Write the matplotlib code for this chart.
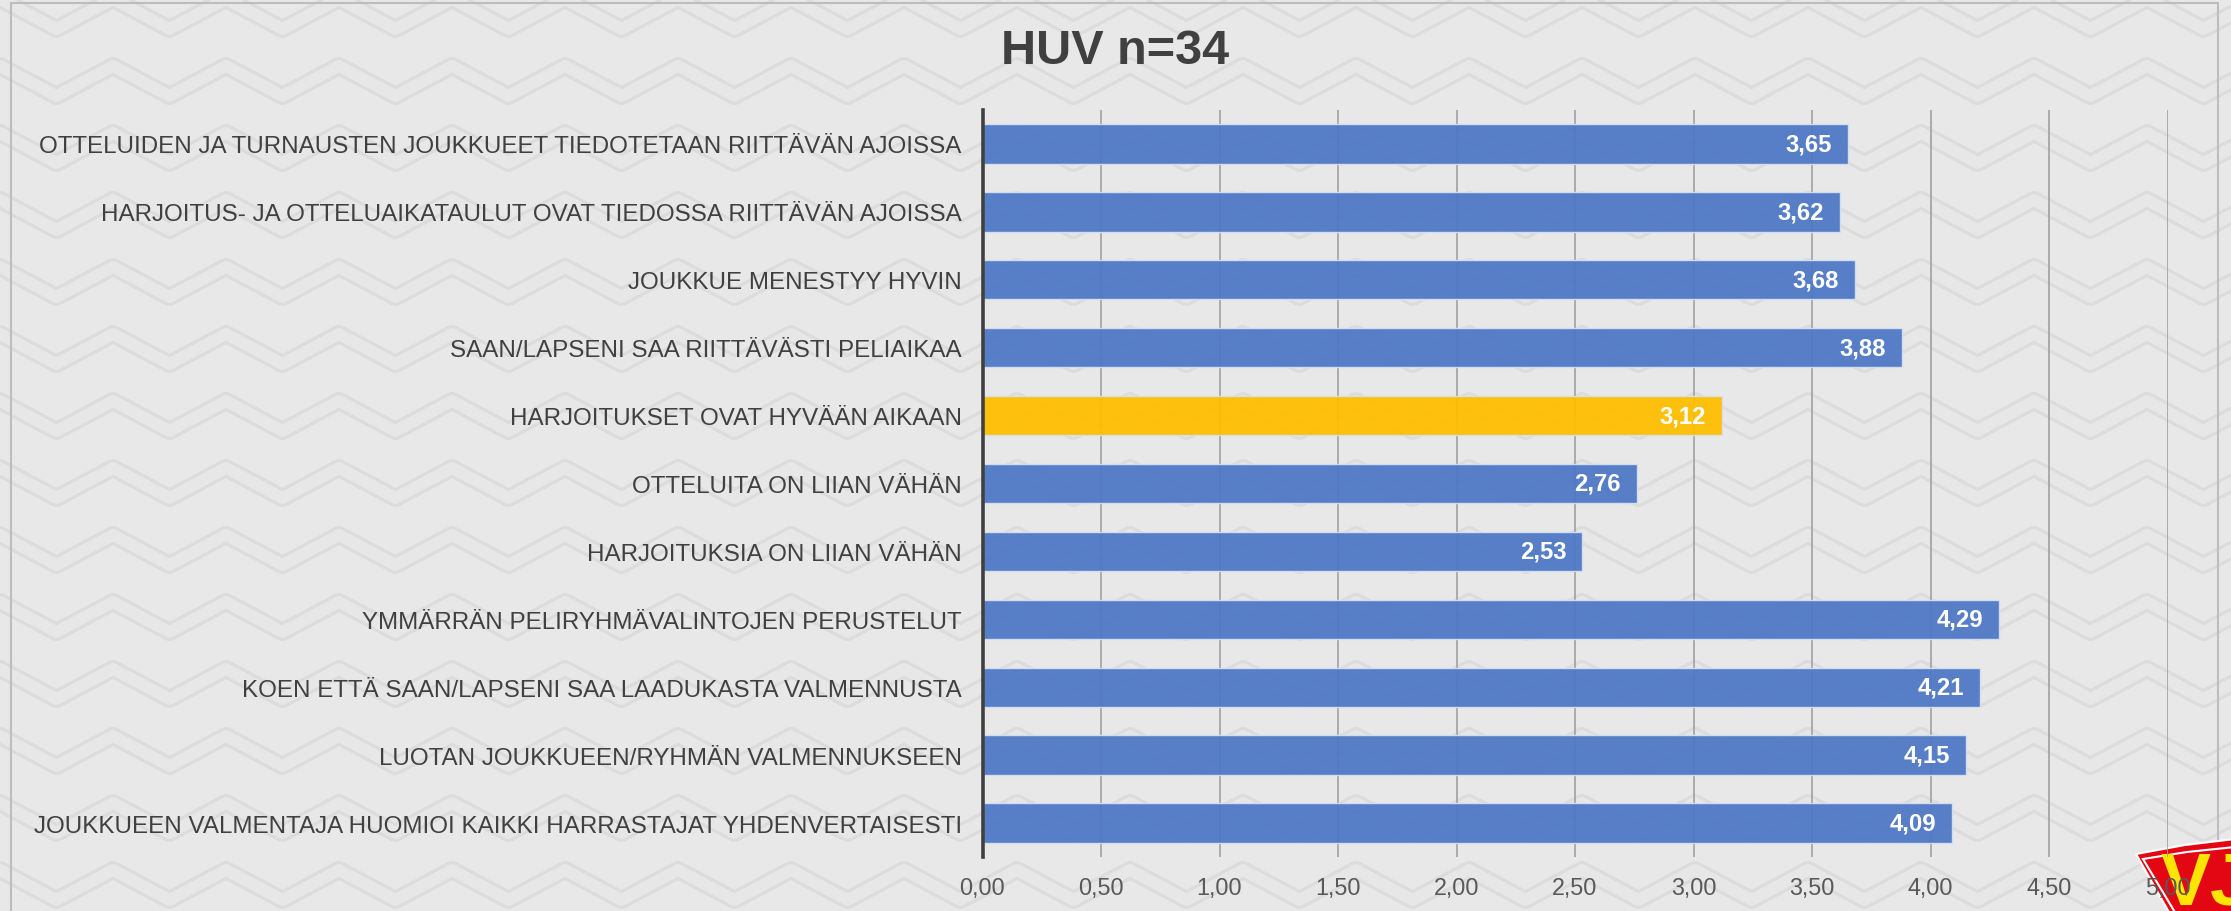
import matplotlib
matplotlib.use("Agg")
import matplotlib.pyplot as plt
from matplotlib.lines import Line2D
from matplotlib.patches import Polygon, Rectangle

# ---------------- data ----------------
categories = [
    "OTTELUIDEN JA TURNAUSTEN JOUKKUEET TIEDOTETAAN RIITTÄVÄN AJOISSA",
    "HARJOITUS- JA OTTELUAIKATAULUT OVAT TIEDOSSA RIITTÄVÄN AJOISSA",
    "JOUKKUE MENESTYY HYVIN",
    "SAAN/LAPSENI SAA RIITTÄVÄSTI PELIAIKAA",
    "HARJOITUKSET OVAT HYVÄÄN AIKAAN",
    "OTTELUITA ON LIIAN VÄHÄN",
    "HARJOITUKSIA ON LIIAN VÄHÄN",
    "YMMÄRRÄN PELIRYHMÄVALINTOJEN PERUSTELUT",
    "KOEN ETTÄ SAAN/LAPSENI SAA LAADUKASTA VALMENNUSTA",
    "LUOTAN JOUKKUEEN/RYHMÄN VALMENNUKSEEN",
    "JOUKKUEEN VALMENTAJA HUOMIOI KAIKKI HARRASTAJAT YHDENVERTAISESTI",
]
values = [3.65, 3.62, 3.68, 3.88, 3.12, 2.76, 2.53, 4.29, 4.21, 4.15, 4.09]
highlight = [False, False, False, False, True, False, False, False, False, False, False]
x_ticks = [0.0, 0.5, 1.0, 1.5, 2.0, 2.5, 3.0, 3.5, 4.0, 4.5, 5.0]
title = "HUV n=34"

# ---------------- style ----------------
plt.rcParams['font.family'] = ['Liberation Sans', 'DejaVu Sans']
BG = '#e8e8e8'
BLUE = '#4f79c6'
YELLOW = '#ffbe00'
W, H = 2231, 912

fig = plt.figure(figsize=(W / 100, H / 100), dpi=100)
fig.patch.set_facecolor(BG)


def fx(px):
    return px / W


def fy(py):
    return 1 - py / H


# decorative background texture (outlined zig-zag bands)
HALF = 56.5
for row in range(-2, 16):
    y0 = row * 67
    xs, ys = [], []
    for k in range(-2, 44):
        xs.append(k * HALF)
        ys.append(y0 + (k % 2) * 30)
    fxs = [fx(v) for v in xs]
    fys = [fy(v) for v in ys]
    fig.add_artist(Line2D(fxs, fys, transform=fig.transFigure, lw=13.0,
                          color='#dcdcdc', solid_joinstyle='round',
                          solid_capstyle='round', zorder=-5))
    fig.add_artist(Line2D(fxs, fys, transform=fig.transFigure, lw=8.5,
                          color='#e7e7e7', solid_joinstyle='round',
                          solid_capstyle='round', zorder=-4))

# chart border
fig.add_artist(Rectangle((fx(11), fy(920)), fx(2218) - fx(11), fy(4) - fy(920),
                         transform=fig.transFigure, fill=False,
                         edgecolor='#bdbdbd', lw=1.5, zorder=-3))

# logo (partially visible in the corner)
outer = [(fx(2136), fy(855)), (fx(2185), fy(846)), (fx(2235), fy(840)),
         (fx(2235), fy(915)), (fx(2170), fy(915))]
inner = [(fx(2143), fy(860)), (fx(2187), fy(853)), (fx(2235), fy(848)),
         (fx(2235), fy(915)), (fx(2176), fy(915))]
fig.add_artist(Polygon(outer, closed=True, transform=fig.transFigure,
                       facecolor='#e30613', edgecolor='none', zorder=-2))
fig.add_artist(Polygon(outer, closed=True, transform=fig.transFigure,
                       facecolor='none', edgecolor='white', lw=1.5, zorder=-2))
red_in = Polygon(inner, closed=True, transform=fig.transFigure,
                 facecolor='#e30613', edgecolor='white', lw=1.5, zorder=-2)
fig.add_artist(red_in)
logo_txt = fig.text(fx(2160), fy(905), "VJ", color='#ffe500', fontsize=54,
                    fontweight='bold', ha='left', va='baseline', zorder=-1)
logo_txt.set_clip_path(red_in)

# ---------------- axes ----------------
ax = fig.add_axes([fx(982.5), fy(858), fx(2167.5) - fx(982.5), fy(111) - fy(858)])
ax.set_facecolor('none')

ypos = list(range(len(categories)))
colors = [YELLOW if h else BLUE for h in highlight]
bars = ax.barh(ypos, values, height=0.58, color=colors, alpha=0.95,
               edgecolor='#d5e0f2', linewidth=1.0, zorder=2)

for b, v in zip(bars, values):
    ax.annotate(f"{v:.2f}".replace('.', ','),
                xy=(v, b.get_y() + b.get_height() / 2),
                xytext=(-11.5, 0), textcoords='offset points',
                ha='right', va='center', color='white',
                fontsize=17.2, fontweight='bold', zorder=3)

ax.set_xlim(0, 5)
ax.set_ylim(len(categories) - 0.5, -0.5)
ax.set_xticks(x_ticks)
ax.set_xticklabels([f"{t:.2f}".replace('.', ',') for t in x_ticks])
ax.set_yticks(ypos)
ax.set_yticklabels(categories)

ax.tick_params(axis='y', length=0, pad=15, labelsize=17.4, labelcolor='#404040')
ax.tick_params(axis='x', length=0, pad=14, labelsize=16.8, labelcolor='#595959')

ax.grid(axis='x', color='#a0a0a0', linewidth=1.2, zorder=1)
ax.grid(axis='y', visible=False)
ax.set_axisbelow(True)

for s in ['top', 'right', 'bottom']:
    ax.spines[s].set_visible(False)
ax.spines['left'].set_color('#404040')
ax.spines['left'].set_linewidth(2.6)
ax.spines['left'].set_zorder(4)

fig.text(0.4998, fy(52), title, ha='center', va='center', fontsize=35,
         fontweight='bold', color='#404040')

fig.savefig('out.png', dpi=100, facecolor=BG)
